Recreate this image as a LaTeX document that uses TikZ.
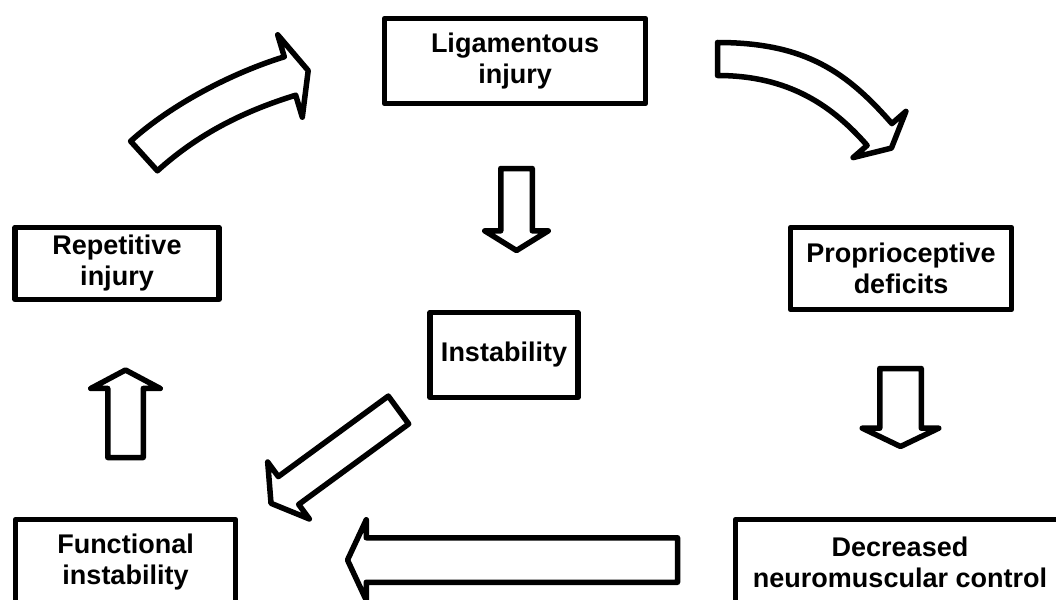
\documentclass[tikz,border=0pt]{standalone}
\usepackage{fontspec}
\setmainfont{Liberation Sans}
\usetikzlibrary{shapes.arrows}
\begin{document}
\begin{tikzpicture}[x=1pt, y=-1pt,
    box/.style={draw, line width=5.5pt, line join=round, align=center, inner sep=0pt,
      font=\bfseries\fontsize{27}{31}\selectfont},
    blockarrow/.style={draw, line width=5.5pt, line join=round, fill=white, single arrow,
      outer sep=0pt, inner xsep=0pt, minimum width=0pt, anchor=tail},
    curvearrow/.style={draw, line width=5.5pt, line join=round, fill=white}]
    \useasboundingbox (0,0) rectangle (1056,599);
    \clip (0,0) rectangle (1056,599);
    \node[box, minimum width=261pt, minimum height=85pt] (lig) at (515,61) {Ligamentous\\injury};
    \node[box, minimum width=204pt, minimum height=72pt] (rep) at (117,263.5) {Repetitive\\injury};
    \node[box, minimum width=221pt, minimum height=82pt] (prop) at (901,268.5) {Proprioceptive\\deficits};
    \node[box, minimum width=148pt, minimum height=85pt] (inst) at (504,355) {Instability};
    \node[box, minimum width=220pt, minimum height=85pt] (func) at (125.5,562) {Functional\\instability};
    \node[box, minimum width=329pt, minimum height=85pt] (dec) at (900,562) {Decreased\\neuromuscular control};
    \node[blockarrow, rotate=-90, inner ysep=13pt, single arrow head extend=16pt,
      single arrow tip angle=116.5, minimum height=82pt] (a1) at (516.5,168.5) {};
    \node[blockarrow, rotate=90, inner ysep=15pt, single arrow head extend=17pt,
      single arrow tip angle=124, minimum height=87.5pt] (a2) at (125.5,457.5) {};
    \node[blockarrow, rotate=-90, inner ysep=18pt, single arrow head extend=17.5pt,
      single arrow tip angle=128.8, minimum height=78pt] (a3) at (900.5,368.5) {};
    \node[blockarrow, rotate=180, inner ysep=19.5pt, single arrow head extend=18pt,
      single arrow tip angle=130, minimum height=330pt] (a4) at (677.5,560) {};
    \node[blockarrow, rotate=216.2, inner ysep=14.5pt, single arrow head extend=18pt,
      single arrow tip angle=116.8, minimum height=158pt] (a5) at (398.5,410) {};
    \draw[curvearrow] (157.4,170.8) -- (130.6,141.2)
      .. controls (171.6,104.2) and (232.3,72.8) .. (284.3,56.8)
      -- (277.7,34.8) -- (308.2,70.6) -- (302.3,117.2) -- (295.7,95.2)
      .. controls (243.7,111.2) and (198.4,133.8) .. (157.4,170.8) -- cycle;
    \draw[curvearrow] (717.5,75.5) -- (717.5,42.5)
      .. controls (806.5,42.5) and (847.7,73.2) .. (891.9,123.6)
      -- (905.9,111.4) -- (891.4,148.1) -- (853.1,157.6) -- (867.1,145.4)
      .. controls (832.2,105.5) and (788.5,75.5) .. (717.5,75.5) -- cycle;
\end{tikzpicture}
\end{document}
